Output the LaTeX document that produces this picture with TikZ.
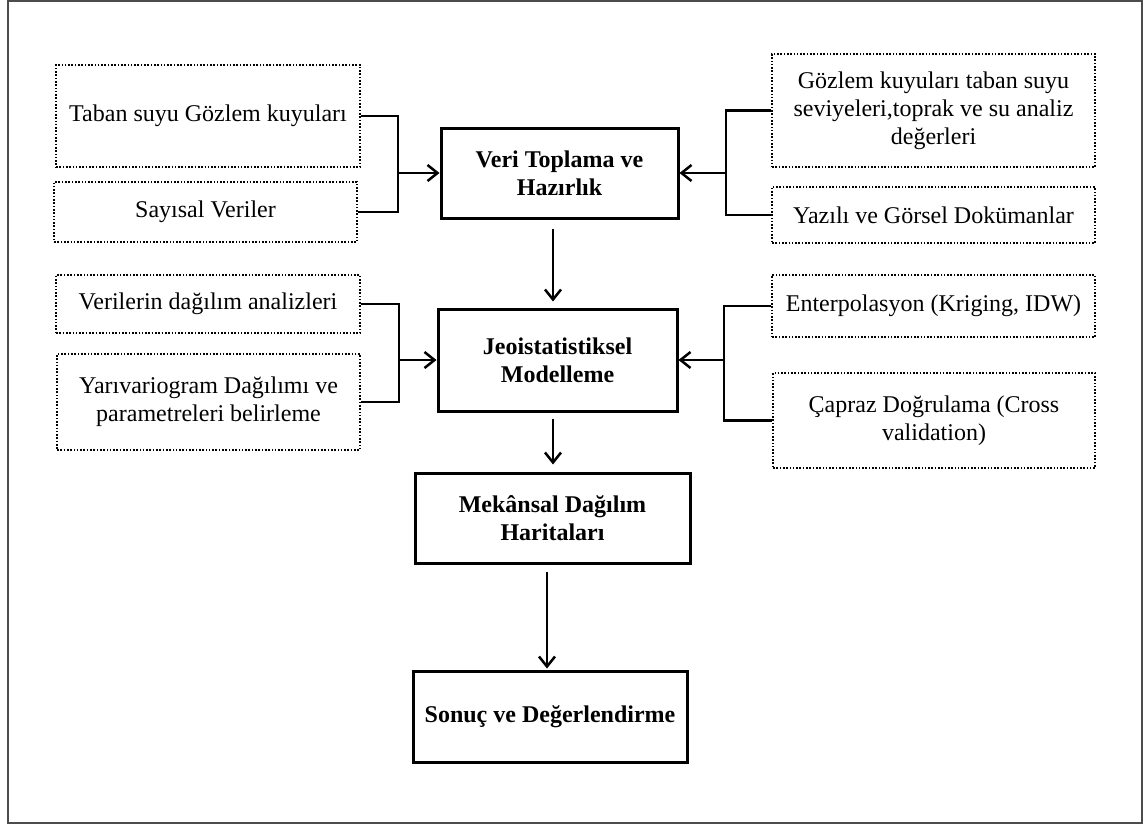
\documentclass[tikz,border=0pt]{standalone}
\usepackage{fontspec}
\setmainfont{Liberation Serif}
\usetikzlibrary{arrows.meta}
\begin{document}
\begin{tikzpicture}[x=0.5pt,y=-0.5pt,
  mainbox/.style={draw,line width=1.5pt,inner sep=0pt,align=center,font=\fontsize{12}{14}\selectfont\bfseries},
  dotbox/.style={draw,line width=0.9pt,dash pattern=on 0.8pt off 0.85pt,inner sep=0pt,align=center,font=\fontsize{12}{14}\selectfont},
  conn/.style={line width=1.25pt},
  arr/.style={line width=1.25pt,-{Straight Barb[length=5pt,width=8pt,line width=1.25pt]}},
  frame/.style={draw=black!70,line width=0.6pt}]
\useasboundingbox (0,0) rectangle (1144,825);
\draw[frame] (8,1) rectangle (1142,823);

% main boxes
\node[mainbox,minimum width=118.5pt,minimum height=45pt] (veri) at (559.5,173) {Veri Toplama ve\\Hazırlık};
\node[mainbox,minimum width=119.5pt,minimum height=51pt] (jeo) at (557.5,360) {Jeoistatistiksel\\Modelleme};
\node[mainbox,minimum width=137.5pt,minimum height=45pt] (mek) at (552.5,518) {Mekânsal Dağılım\\Haritaları};
\node[mainbox,minimum width=137pt,minimum height=45.5pt] (sonuc) at (550,716.5) {Sonuç ve Değerlendirme};

% left dotted boxes
\node[dotbox,minimum width=152pt,minimum height=51pt] (L1) at (208,116) {Taban suyu Gözlem kuyuları};
\node[dotbox,minimum width=151.5pt,minimum height=30pt] (L2) at (205.5,212) {Sayısal Veriler};
\node[dotbox,minimum width=152pt,minimum height=29pt] (L3) at (208,304) {Verilerin dağılım analizleri};
\node[dotbox,minimum width=151.5pt,minimum height=48pt] (L4) at (208.5,402) {Yarıvariogram Dağılımı ve\\parametreleri belirleme};

% right dotted boxes
\node[dotbox,minimum width=161.5pt,minimum height=56.5pt] (R1) at (933.5,110.5) {Gözlem kuyuları taban suyu\\seviyeleri,toprak ve su analiz\\değerleri};
\node[dotbox,minimum width=161.5pt,minimum height=28pt] (R2) at (933.5,215) {Yazılı ve Görsel Dokümanlar};
\node[dotbox,minimum width=161.5pt,minimum height=31pt] (R3) at (933.5,306) {Enterpolasyon (Kriging, IDW)};
\node[dotbox,minimum width=161pt,minimum height=47.5pt] (R4) at (934,420.5) {Çapraz Doğrulama (Cross\\validation)};

% junctions
\coordinate (jA) at (398,173);
\coordinate (jB) at (399,360);
\coordinate (jC) at (726,173);
\coordinate (jD) at (724,360);

\draw[conn] (L1.east) -| (jA) |- (L2.east);
\draw[arr] (jA) -- (veri.west);
\draw[conn] (L3.east) -| (jB) |- (L4.east);
\draw[arr] (jB) -- (jeo.west);
\draw[conn] (R1.west) -| (jC) |- (R2.west);
\draw[arr] (jC) -- (veri.east);
\draw[conn] (R3.west) -| (jD) |- (R4.west);
\draw[arr] (jD) -- (jeo.east);

% vertical flow
\draw[arr] ([shift={(-6.5,9)}]veri.south) -- ([shift={(-4.5,-6)}]jeo.north);
\draw[arr] ([shift={(-4.5,6)}]jeo.south) -- ([shift={(0.5,-7)}]mek.north);
\draw[arr] ([shift={(-5.5,7)}]mek.south) -- ([shift={(-3,-1)}]sonuc.north);
\end{tikzpicture}
\end{document}
